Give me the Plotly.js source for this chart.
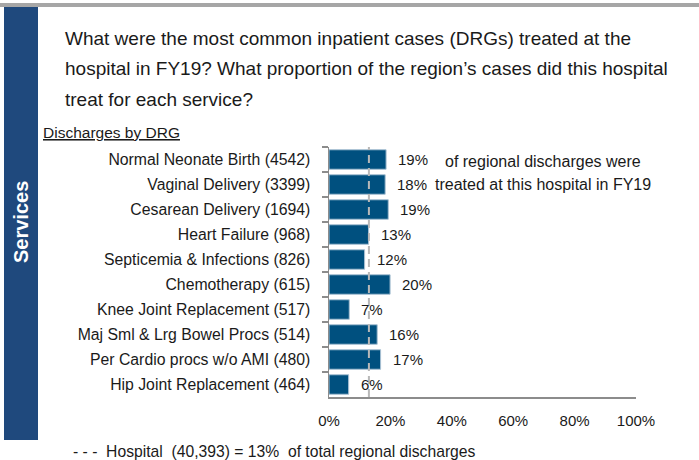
<!DOCTYPE html>
<html>
<head>
<meta charset="utf-8">
<script src="https://cdn.plot.ly/plotly-3.0.1.min.js"></script>
<style>html,body{margin:0;padding:0;background:#fff;}#chart{width:699px;height:460px;}</style>
</head>
<body>
<div id="chart"></div>
<script>
// ---- data ----
const categories = [
  'Normal Neonate Birth (4542)',
  'Vaginal Delivery (3399)',
  'Cesarean Delivery (1694)',
  'Heart Failure (968)',
  'Septicemia & Infections (826)',
  'Chemotherapy (615)',
  'Knee Joint Replacement (517)',
  'Maj Sml & Lrg Bowel Procs (514)',
  'Per Cardio procs w/o AMI (480)',
  'Hip Joint Replacement (464)'
];
const shareValues = [18.6, 18.3, 19.3, 12.9, 11.6, 19.9, 6.6, 15.7, 16.8, 6.4];
const shareLabels = ['19%', '18%', '19%', '13%', '12%', '20%', '7%', '16%', '17%', '6%'];
const hospitalShare = 13;
const xTickVals = [0, 20, 40, 60, 80, 100];
const xTickText = ['0%', '20%', '40%', '60%', '80%', '100%'];
const titleLines = [
  'What were the most common inpatient cases (DRGs) treated at the',
  'hospital in FY19? What proportion of the region\u2019s cases did this hospital',
  'treat for each service?'
];
const subTitle = 'Discharges by DRG';
const sideLabel = 'Services';
const noteLines = ['of regional discharges were', 'treated at this hospital in FY19'];
const footerText = '- - -\u00a0\u00a0Hospital\u00a0\u00a0(40,393) = 13%\u00a0\u00a0of total regional discharges';

// ---- layout helpers (pixel -> paper) ----
const W = 699, H = 460, ML = 329, MR = 63, MT = 147, MB = 63;
const PW = W - ML - MR, PH = H - MT - MB;
const px = v => (v - ML) / PW;
const py = v => (H - MB - v) / PH;
const FONT = 'Liberation Sans, Arial, sans-serif';
const TXT = '#1a1a1a';

const annotations = [];
titleLines.forEach((t, i) => {
  annotations.push({text: t, xref: 'paper', yref: 'paper', x: px(63), y: py(38 + i * 30.7),
    xanchor: 'left', yanchor: 'middle', showarrow: false, font: {family: FONT, size: 19, color: TXT}});
});
annotations.push({text: '<u>' + subTitle + '</u>', xref: 'paper', yref: 'paper', x: px(41), y: py(132),
  xanchor: 'left', yanchor: 'middle', showarrow: false, font: {family: FONT, size: 15.5, color: TXT}});
annotations.push({text: '<b>' + sideLabel + '</b>', xref: 'paper', yref: 'paper', x: px(21), y: py(222),
  xanchor: 'center', yanchor: 'middle', textangle: -90, showarrow: false, font: {family: FONT, size: 20, color: '#ffffff'}});
noteLines.forEach((t, i) => {
  annotations.push({text: t, xref: 'paper', yref: 'paper', x: px(543), y: py(161 + i * 23.5),
    xanchor: 'center', yanchor: 'middle', showarrow: false, font: {family: FONT, size: 16, color: TXT}});
});
annotations.push({text: footerText, xref: 'paper', yref: 'paper', x: px(71), y: py(451),
  xanchor: 'left', yanchor: 'middle', showarrow: false, font: {family: FONT, size: 15.7, color: TXT}});
categories.forEach((c, i) => {
  annotations.push({text: shareLabels[i], xref: 'x', yref: 'y', x: shareValues[i], y: c,
    xanchor: 'left', yanchor: 'middle', xshift: 10, showarrow: false, font: {family: FONT, size: 15, color: TXT}});
});

const shapes = [
  {type: 'rect', xref: 'paper', yref: 'paper', x0: px(0), x1: px(699), y0: py(3), y1: py(7),
    fillcolor: '#a6a6a6', line: {width: 0}, layer: 'below'},
  {type: 'rect', xref: 'paper', yref: 'paper', x0: px(4), x1: px(38), y0: py(7), y1: py(440),
    fillcolor: '#1f497d', line: {width: 0}, layer: 'below'},
  {type: 'line', xref: 'x', yref: 'paper', x0: hospitalShare, x1: hospitalShare, y0: 0, y1: 1,
    line: {color: '#b8b8b8', width: 2, dash: '8px,5px'}, layer: 'above'}
];

const trace = {
  type: 'bar', orientation: 'h', x: shareValues, y: categories, width: 0.78,
  marker: {color: '#00507f', line: {color: '#a9c1d3', width: 1}},
  hoverinfo: 'none'
};

const layout = {
  width: W, height: H, margin: {l: ML, r: MR, t: MT, b: MB, pad: 0},
  paper_bgcolor: '#ffffff', plot_bgcolor: '#ffffff', showlegend: false,
  font: {family: FONT, color: TXT},
  xaxis: {range: [0, 100], tickvals: xTickVals, ticktext: xTickText, showgrid: false, zeroline: false,
    showline: true, linecolor: '#8c8c8c', linewidth: 1.5, ticks: '', ticklabelstandoff: 9,
    tickfont: {family: FONT, size: 15, color: TXT}, fixedrange: true},
  yaxis: {type: 'category', autorange: 'reversed', showgrid: false, zeroline: false,
    showline: true, linecolor: '#8c8c8c', linewidth: 1.5, ticks: 'outside', ticklen: 6,
    tickcolor: '#8c8c8c', tickwidth: 1.5, tickson: 'boundaries', ticklabelstandoff: 14,
    tickfont: {family: FONT, size: 15.8, color: TXT}, fixedrange: true},
  annotations: annotations, shapes: shapes
};

Plotly.newPlot('chart', [trace], layout, {displayModeBar: false, staticPlot: true});
</script>
</body>
</html>
